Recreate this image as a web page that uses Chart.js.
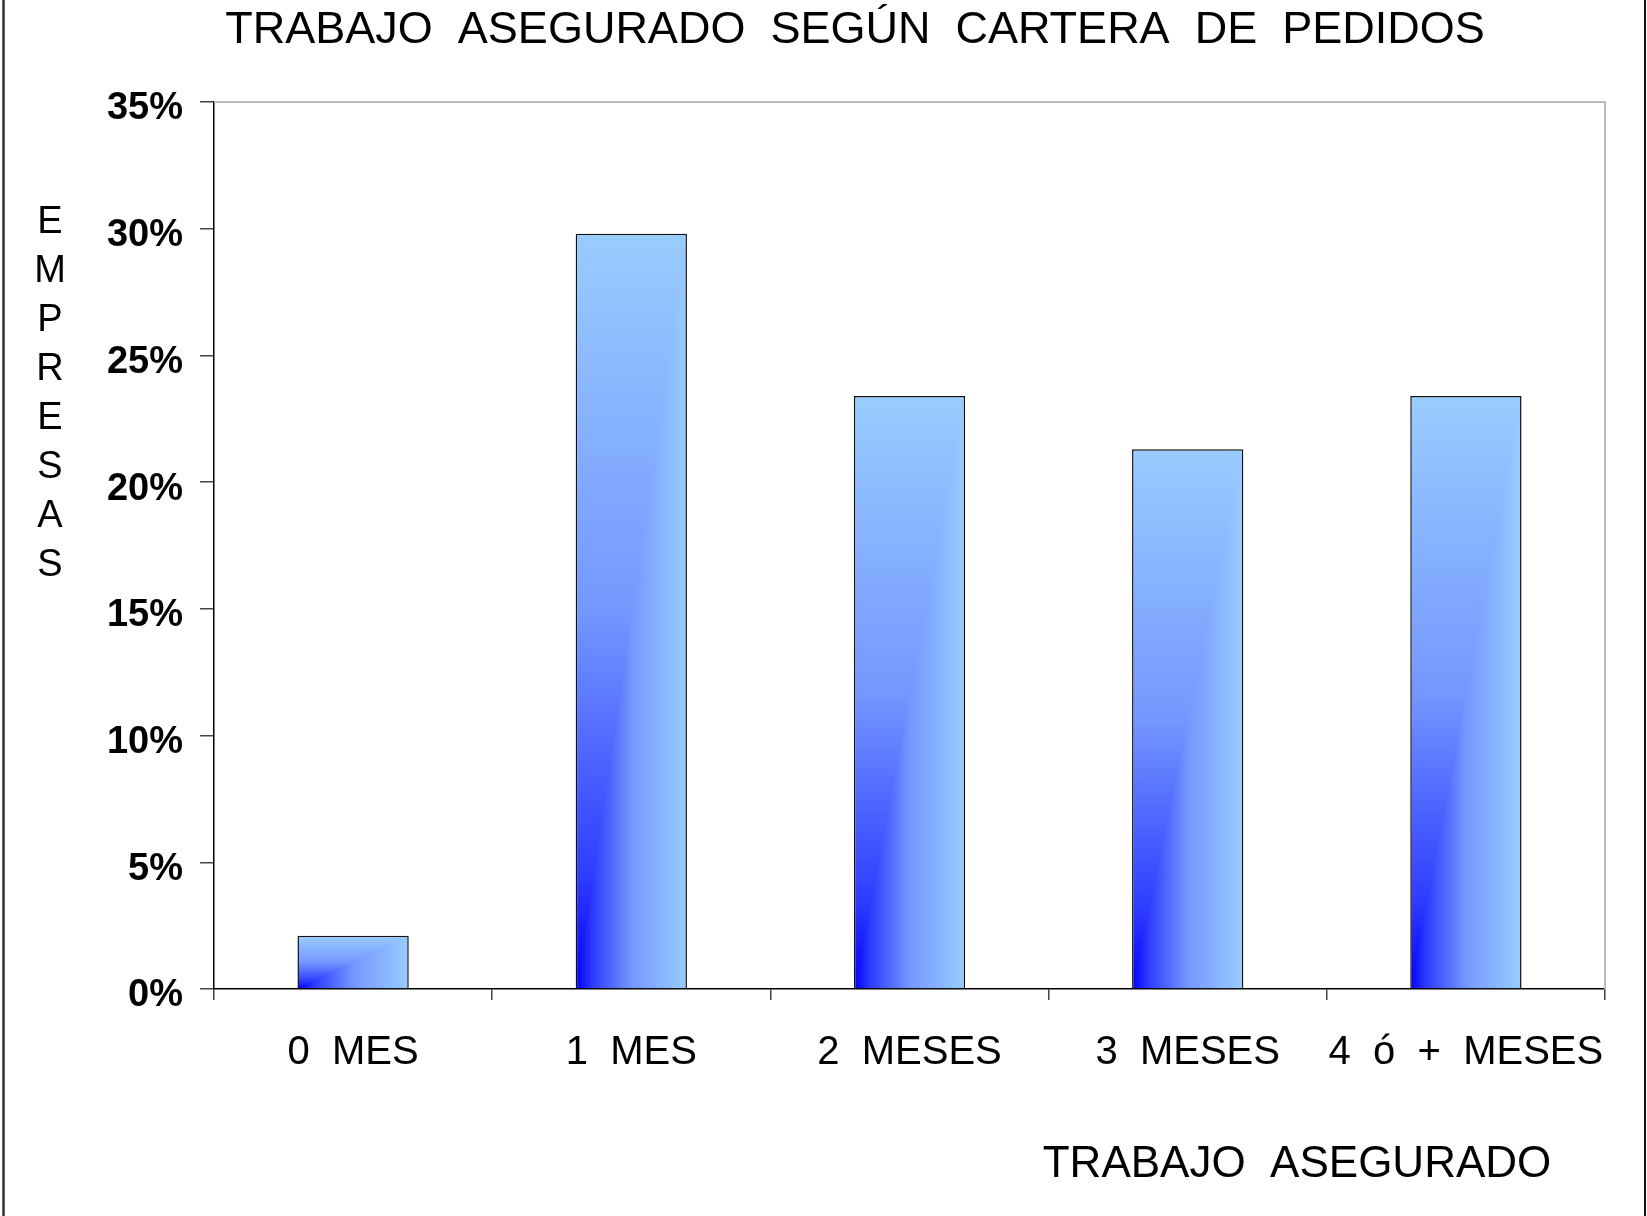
<!DOCTYPE html>
<html lang="es">
<head>
  <meta charset="UTF-8">
  <title>Trabajo asegurado según cartera de pedidos</title>
  <script src="https://cdn.jsdelivr.net/npm/chart.js"></script>
  <style>
    * {
      margin: 0;
      padding: 0;
      box-sizing: border-box;
    }

    body {
      background-color: #fff;
    }

    .wrap {
      position: relative;
      width: 1647px;
      height: 1216px;
    }
  </style>
</head>
<body>
  <div class="wrap">
    <canvas id="cartera"></canvas>
  </div>

  <script>
    // data
    const TITLE = 'TRABAJO  ASEGURADO  SEGÚN  CARTERA  DE  PEDIDOS';
    const X_TITLE = 'TRABAJO  ASEGURADO';
    const Y_TITLE = ['E', 'M', 'P', 'R', 'E', 'S', 'A', 'S'];
    const CATEGORIES = ['0  MES', '1  MES', '2  MESES', '3  MESES', '4  ó  +  MESES'];
    const EMPRESAS_PCT = [2.1, 29.8, 23.4, 21.3, 23.4];
    const Y_MAX = 35;
    const Y_STEP = 5;

    const FONT = "'Liberation Sans', Arial, sans-serif";
    const BAR_PCT = 0.4;
    // "from corner" gradient, dark at bottom-left
    const STOPS = [[0, '#0000ff'], [0.15, '#2f3cff'], [0.5, '#7497ff'], [1, '#99ccff']];

    function cornerFill(chart, index, value) {
      const xs = chart.scales.x, ys = chart.scales.y;
      const w = Math.max(1, Math.round(xs.width / CATEGORIES.length * BAR_PCT));
      const top = Math.round(ys.getPixelForValue(value));
      const h = Math.max(1, Math.round(ys.getPixelForValue(0)) - top);
      const left = Math.round(xs.getPixelForValue(index) - w / 2);

      const off = document.createElement('canvas');
      off.width = w;
      off.height = h;
      const c = off.getContext('2d');
      const gx = c.createLinearGradient(0, 0, w, 0);
      const gy = c.createLinearGradient(0, h, 0, 0);
      STOPS.forEach(([p, col]) => { gx.addColorStop(p, col); gy.addColorStop(p, col); });
      c.fillStyle = gx;
      c.fillRect(0, 0, w, h);
      c.fillStyle = gy;
      c.beginPath();
      c.moveTo(0, h);
      c.lineTo(0, 0);
      c.lineTo(w, 0);
      c.closePath();
      c.fill();

      const pat = chart.ctx.createPattern(off, 'no-repeat');
      pat.setTransform(new DOMMatrix([1, 0, 0, 1, left, top]));
      return pat;
    }

    // page frame, plot frame and the hand placed axis titles
    const extras = {
      id: 'extras',
      beforeDraw(chart) {
        const ctx = chart.ctx;
        ctx.save();
        ctx.strokeStyle = '#333';
        ctx.lineWidth = 2.5;
        ctx.beginPath();
        ctx.moveTo(3.5, 0);
        ctx.lineTo(3.5, chart.height);
        ctx.stroke();
        ctx.strokeStyle = '#111';
        ctx.lineWidth = 2;
        ctx.beginPath();
        ctx.moveTo(chart.width - 2, 0);
        ctx.lineTo(chart.width - 2, chart.height);
        ctx.stroke();
        ctx.restore();
      },
      beforeDatasetsDraw(chart) {
        const a = chart.chartArea;
        const ctx = chart.ctx;
        ctx.save();
        ctx.strokeStyle = '#bdbdbd';
        ctx.lineWidth = 2;
        ctx.beginPath();
        ctx.moveTo(a.left, a.top);
        ctx.lineTo(a.right, a.top);
        ctx.lineTo(a.right, a.bottom);
        ctx.stroke();
        ctx.restore();
      },
      afterDraw(chart) {
        const a = chart.chartArea;
        const ctx = chart.ctx;
        ctx.save();
        ctx.fillStyle = '#000';
        ctx.textAlign = 'center';
        ctx.textBaseline = 'middle';
        ctx.font = '38px ' + FONT;
        Y_TITLE.forEach((ch, i) => {
          ctx.fillText(ch, a.left - 164, a.top + 121 + i * 49);
        });
        ctx.font = '44px ' + FONT;
        ctx.fillText(X_TITLE, 1297, a.bottom + 176);
        ctx.restore();
      }
    };

    new Chart(document.getElementById('cartera'), {
      type: 'bar',
      data: {
        labels: CATEGORIES,
        datasets: [{
          label: 'Empresas',
          data: EMPRESAS_PCT,
          backgroundColor: (c) => {
            if (c.type !== 'data' || !c.chart.chartArea) return '#99ccff';
            return cornerFill(c.chart, c.dataIndex, c.raw);
          },
          borderColor: '#111',
          borderWidth: 1.5,
          barPercentage: BAR_PCT,
          categoryPercentage: 1
        }]
      },
      options: {
        responsive: true,
        maintainAspectRatio: false,
        animation: false,
        layout: {
          padding: { left: 105, right: 42, top: 0, bottom: 0 }
        },
        plugins: {
          legend: { display: false },
          tooltip: { enabled: false },
          title: {
            display: true,
            text: TITLE,
            color: '#000',
            font: { family: FONT, size: 45, weight: 'normal' },
            padding: { top: 4, bottom: 44 }
          }
        },
        scales: {
          x: {
            grid: {
              drawOnChartArea: false,
              tickLength: 11,
              color: '#444',
              lineWidth: 1.5
            },
            border: { color: '#000', width: 1.5 },
            ticks: {
              color: '#000',
              font: { family: FONT, size: 40 },
              padding: 29,
              maxRotation: 0,
              autoSkip: false
            },
            afterFit: (s) => { s.height = 227; }
          },
          y: {
            min: 0,
            max: Y_MAX,
            grid: {
              drawOnChartArea: false,
              tickLength: 14,
              color: '#444',
              lineWidth: 1.5
            },
            border: { color: '#000', width: 1.5 },
            ticks: {
              stepSize: Y_STEP,
              color: '#000',
              font: { family: FONT, size: 38, weight: 'bold' },
              padding: 17,
              labelOffset: 7,
              callback: (v) => v + '%'
            },
            afterFit: (s) => { s.width = 109; }
          }
        }
      },
      plugins: [extras]
    });
  </script>
</body>
</html>
